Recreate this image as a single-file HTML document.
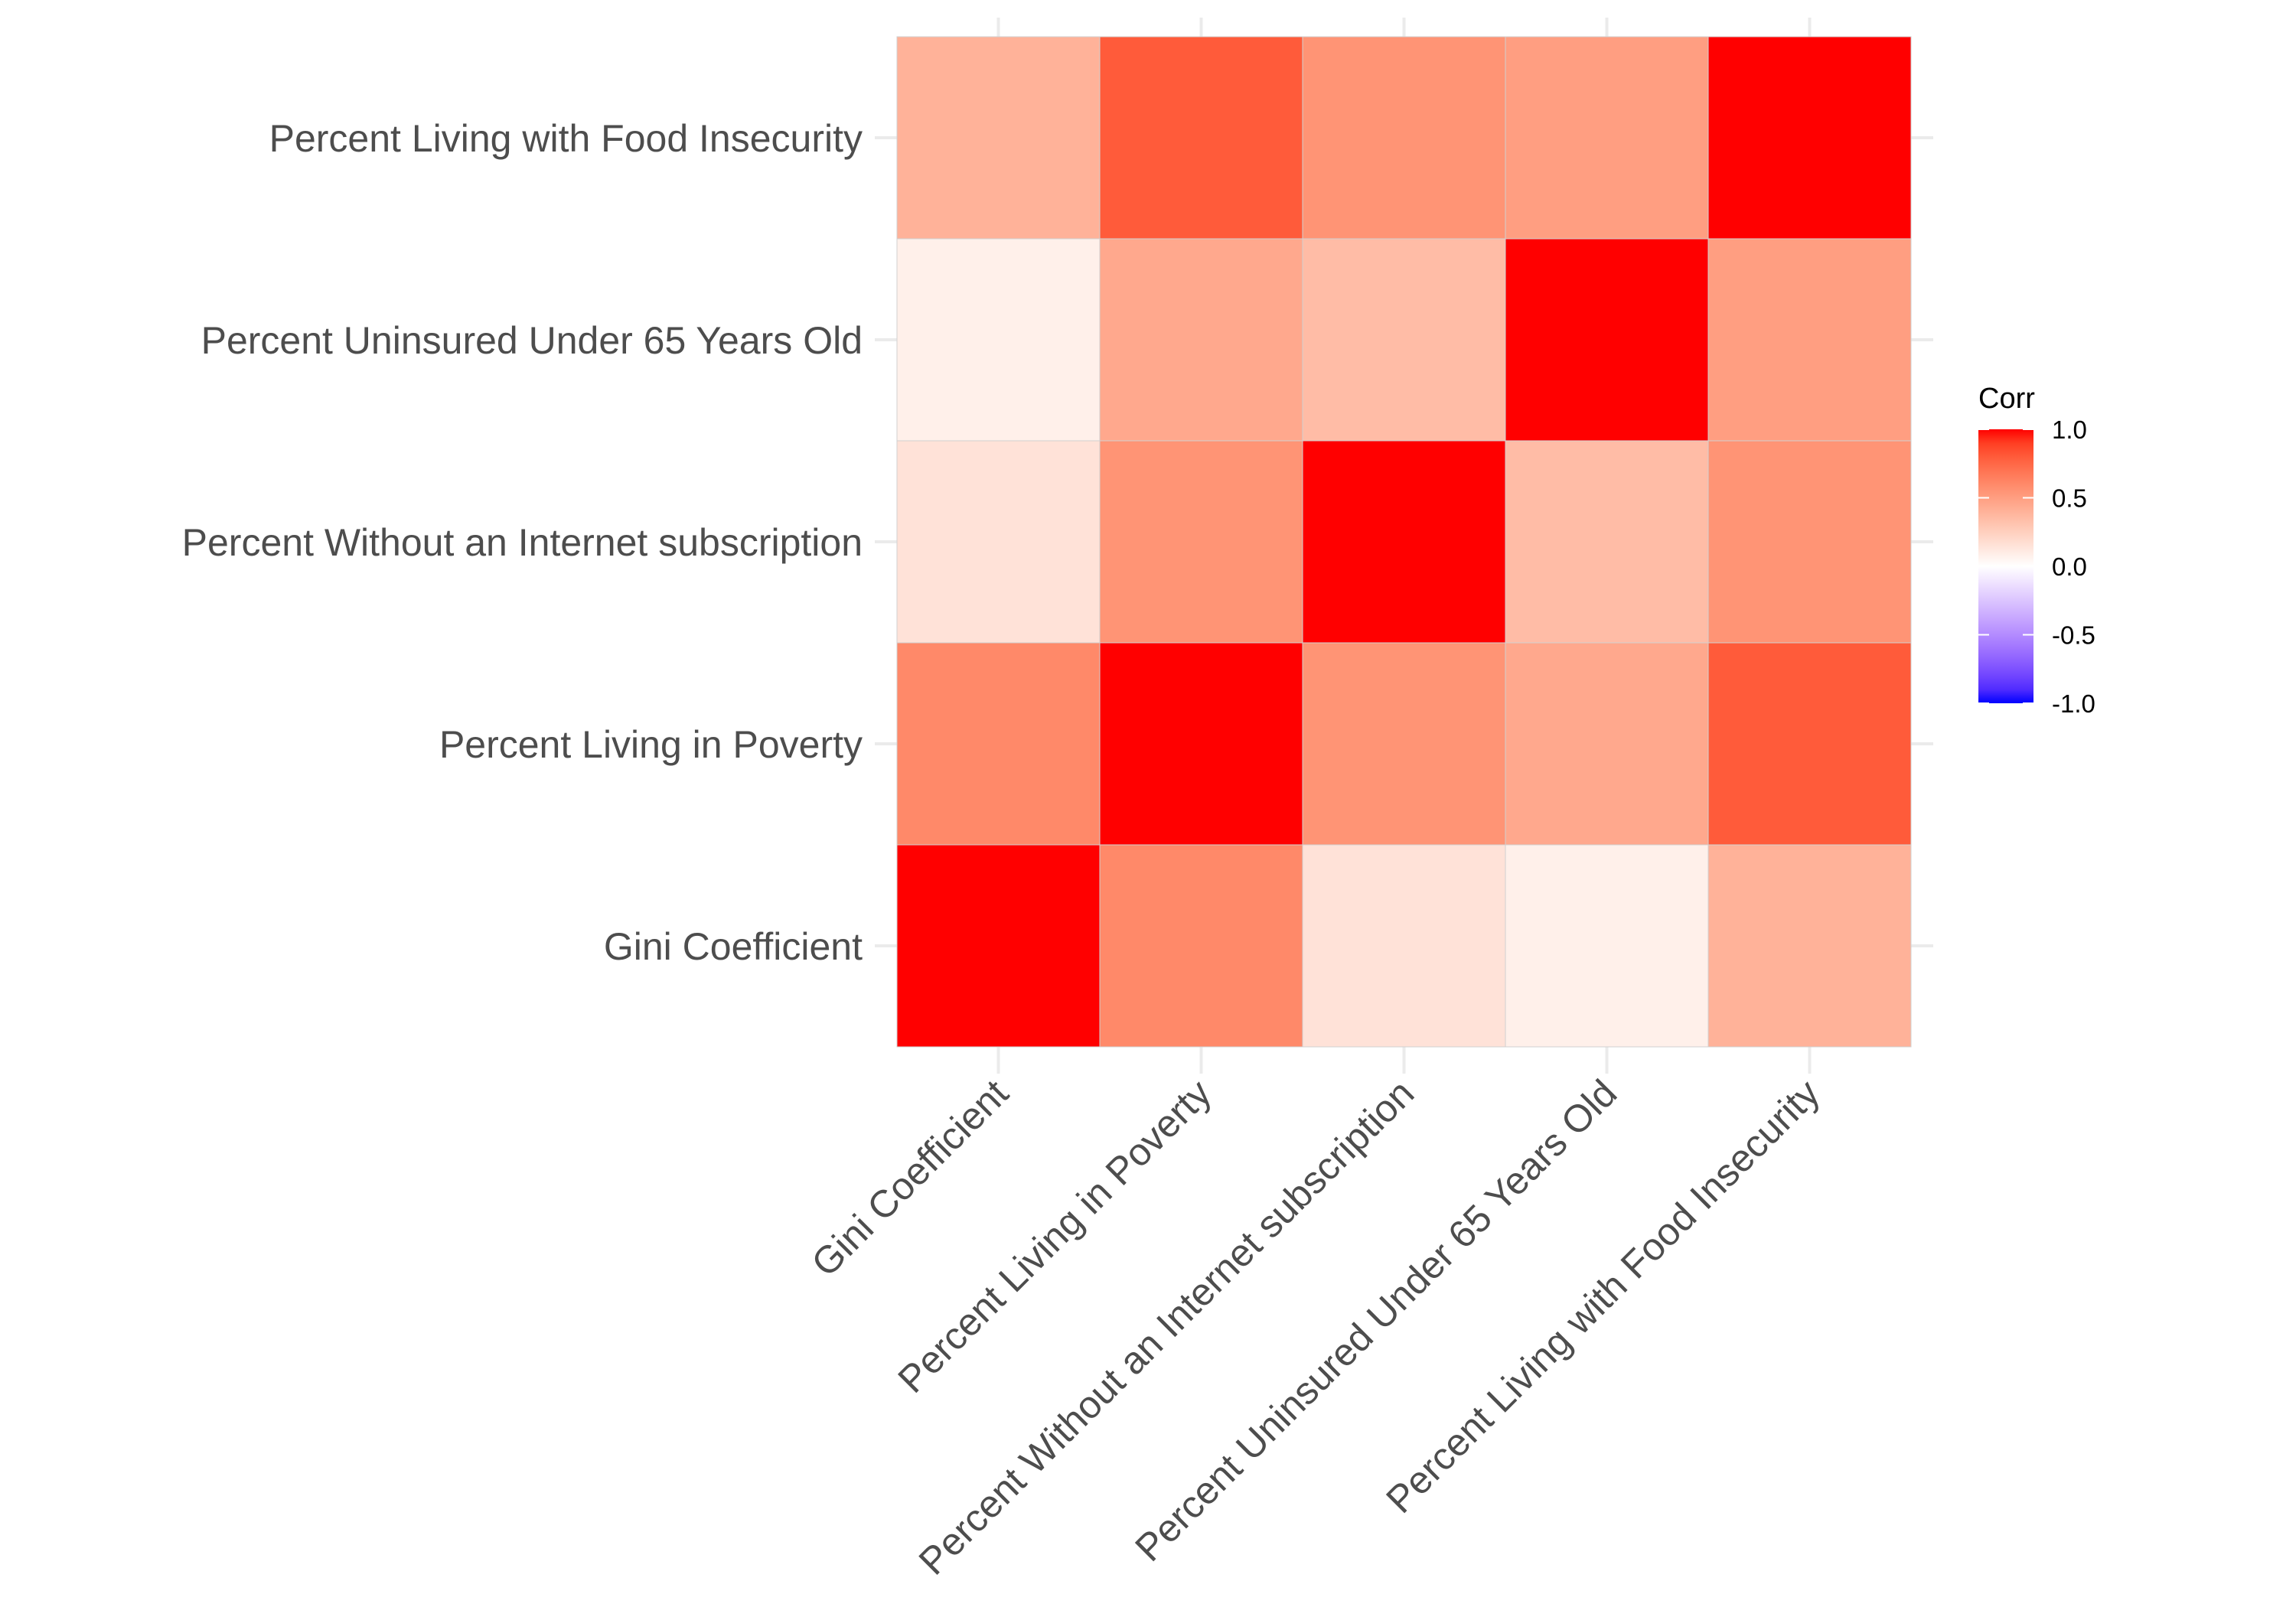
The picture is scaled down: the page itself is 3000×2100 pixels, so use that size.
<!DOCTYPE html>
<html><head><meta charset="utf-8"><style>
html,body{margin:0;padding:0;background:#fff;}
svg{display:block;font-family:"Liberation Sans",Arial,sans-serif;}
</style></head><body>
<svg id="chart" width="3000" height="2100" viewBox="0 0 3000 2100" xmlns="http://www.w3.org/2000/svg">
<rect width="3000" height="2100" fill="#fff"/>
<defs><linearGradient id="lg" x1="0" y1="1" x2="0" y2="0"></linearGradient></defs>
<g id="grid"></g><g id="cells"></g><g id="ylabels"></g><g id="xlabels"></g><g id="legend"></g>
</svg>
<script>
const variables = ["Gini Coefficient","Percent Living in Poverty","Percent Without an Internet subscription","Percent Uninsured Under 65 Years Old","Percent Living with Food Insecurity"];
const rowGini = [1, 0.6, 0.15, 0.08, 0.4];
const rowPoverty = [0.6, 1, 0.55, 0.45, 0.8];
const rowInternet = [0.15, 0.55, 1, 0.35, 0.55];
const rowUninsured = [0.08, 0.45, 0.35, 1, 0.5];
const rowFood = [0.4, 0.8, 0.55, 0.5, 1];
const legendTicks = [1.0, 0.5, 0.0, -0.5, -1.0];

const matrix = [rowGini, rowPoverty, rowInternet, rowUninsured, rowFood];
const NS = "http://www.w3.org/2000/svg";
const L = 1172, R = 2497, T = 48, B = 1368;
const n = variables.length;
const cw = (R - L) / n, ch = (B - T) / n;
const xPos = i => L + i * cw;
const yPos = j => B - (j + 1) * ch;
function mk(tag, attrs, parent){const e=document.createElementNS(NS,tag);for(const k in attrs)e.setAttribute(k,attrs[k]);parent.appendChild(e);return e;}

function rgb2lab(r,g,b){
  const f=c=>{c/=255;return c>0.04045?Math.pow((c+0.055)/1.055,2.4):c/12.92;};
  r=f(r);g=f(g);b=f(b);
  let X=(r*0.4124+g*0.3576+b*0.1805)/0.95047,Y=(r*0.2126+g*0.7152+b*0.0722),Z=(r*0.0193+g*0.1192+b*0.9505)/1.08883;
  const h=t=>t>0.008856?Math.cbrt(t):7.787*t+16/116;
  X=h(X);Y=h(Y);Z=h(Z);
  return [116*Y-16,500*(X-Y),200*(Y-Z)];
}
function lab2rgb(Lv,a,bb){
  let Y=(Lv+16)/116,X=a/500+Y,Z=Y-bb/200;
  const h=t=>t*t*t>0.008856?t*t*t:(t-16/116)/7.787;
  X=h(X)*0.95047;Y=h(Y);Z=h(Z)*1.08883;
  let r=X*3.2406+Y*-1.5372+Z*-0.4986,g=X*-0.9689+Y*1.8758+Z*0.0415,b=X*0.0557+Y*-0.2040+Z*1.0570;
  const f=c=>{c=c>0.0031308?1.055*Math.pow(c,1/2.4)-0.055:12.92*c;return Math.max(0,Math.min(255,Math.round(c*255)));};
  return "rgb("+f(r)+","+f(g)+","+f(b)+")";
}
const W=rgb2lab(255,255,255),RED=rgb2lab(255,0,0),BLUE=rgb2lab(0,0,255);
function color(v){const e=v>=0?RED:BLUE,t=Math.min(1,Math.abs(v));return lab2rgb(W[0]+(e[0]-W[0])*t,W[1]+(e[1]-W[1])*t,W[2]+(e[2]-W[2])*t);}

const grid=document.getElementById("grid");
for(let i=0;i<n;i++){
  const gx=mk("line",{x1:xPos(i)+cw/2,x2:xPos(i)+cw/2,y1:23,y2:1403,stroke:"#ebebeb","stroke-width":4},grid);
  
  
  const gy=mk("line",{x1:1143,x2:2526,y1:yPos(i)+ch/2,y2:yPos(i)+ch/2,stroke:"#ebebeb","stroke-width":4},grid);
  
  
}
const cells=document.getElementById("cells");
for(let j=0;j<n;j++)for(let i=0;i<n;i++){
  const r=mk("rect",{x:xPos(i),y:yPos(j),width:cw,height:ch,fill:color(matrix[j][i]),stroke:"#d0d0d0","stroke-width":1},cells);
  
  
}
const yl=document.getElementById("ylabels"),xl=document.getElementById("xlabels");
for(let i=0;i<n;i++){
  const t=mk("text",{x:1127,y:yPos(i)+ch/2+18,"text-anchor":"end","font-size":50,fill:"#4d4d4d"},yl);
  t.textContent=variables[i];
  
  
  const cx=xPos(i)+cw/2+16,cy=1432;
  const s=mk("text",{x:cx,y:cy,"text-anchor":"end","font-size":50,fill:"#4d4d4d",transform:"rotate(-45 "+cx+" "+cy+")"},xl);
  s.textContent=variables[i];
  
  
}
const lg=document.getElementById("lg");
for(let k=0;k<=20;k++){const v=-1+k/10;mk("stop",{offset:(k/20),"stop-color":color(v)},lg);}
const leg=document.getElementById("legend");
const lt=mk("text",{x:2585,y:533,"font-size":38,fill:"#000"},leg);
lt.textContent="Corr";


const LT=561,LB=919;
const ly=v=>LB-(v+1)/2*(LB-LT);
const bar=mk("rect",{x:2585,y:LT,width:72,height:LB-LT,fill:"url(#lg)"},leg);


legendTicks.forEach(v=>{
  mk("line",{x1:2585,x2:2599,y1:ly(v),y2:ly(v),stroke:"#fff","stroke-width":2},leg);
  mk("line",{x1:2643,x2:2657,y1:ly(v),y2:ly(v),stroke:"#fff","stroke-width":2},leg);
  const t=mk("text",{x:2681,y:ly(v)+12,"font-size":33,fill:"#000"},leg);
  t.textContent=v.toFixed(1);
  
  
});
</script>
</body></html>
